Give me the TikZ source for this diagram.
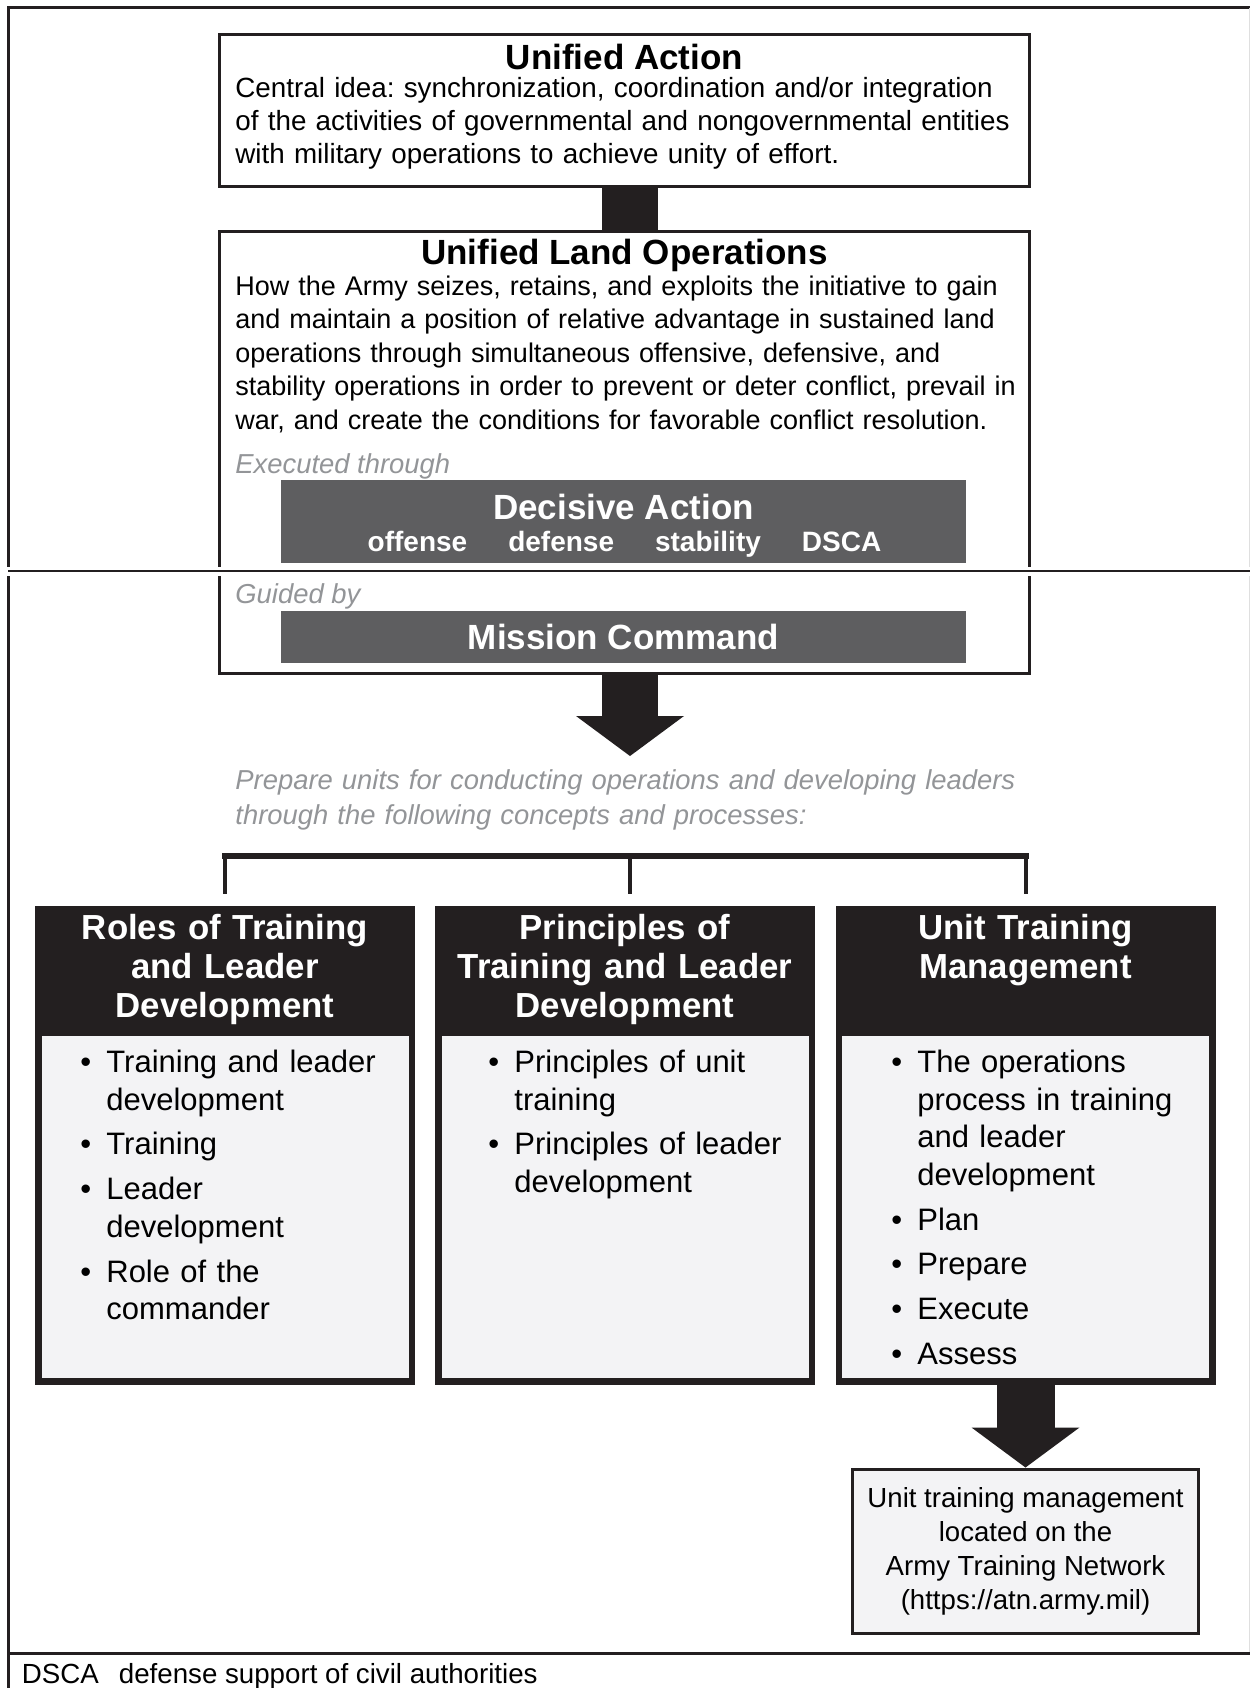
\documentclass[tikz,border=0pt]{standalone}
\usepackage{fontspec}
\setmainfont{Liberation Sans}
\usepackage{tikz}
\usetikzlibrary{positioning,arrows.meta}
\usepackage{xcolor}
\definecolor{inkblack}{HTML}{231F20}
\definecolor{dagray}{HTML}{5E5E60}
\definecolor{palegray}{HTML}{F3F3F5}
\definecolor{notegray}{HTML}{939598}
\newcommand{\bitem}[1]{\hangindent=13pt\hangafter=1\makebox[13pt][l]{\textbullet}#1\par}
\frenchspacing

\begin{document}
\begin{tikzpicture}[x=0.5pt, y=-0.5pt, font=\fontsize{13.9}{16.6}\selectfont]
\tikzstyle{border} = [line width=1.5pt, inkblack]
\tikzstyle{block} = [draw=inkblack, line width=1.5pt, fill=white, minimum width=405pt, inner sep=0pt]
\tikzstyle{headline} = [anchor=base, inner sep=0pt, font=\fontsize{17.5}{21}\selectfont\bfseries]
\tikzstyle{bodytext} = [anchor=base west, text width=420pt, align=left, inner sep=0pt]
\tikzstyle{notetext} = [anchor=base west, inner sep=0pt, text=notegray, font=\fontsize{13.7}{17.25}\selectfont\itshape]
\tikzstyle{band} = [fill=dagray, text=white, minimum width=342.5pt, inner sep=0pt]
\tikzstyle{colbox} = [fill=inkblack, minimum width=190pt, minimum height=239.5pt, inner sep=0pt]
\tikzstyle{colbody} = [fill=palegray, minimum width=183.5pt, minimum height=171pt, inner sep=0pt, anchor=south]
\tikzstyle{colhead} = [anchor=base, text width=180pt, align=center, text=white, inner sep=0pt, font=\fontsize{17.4}{19.4}\selectfont\bfseries]
\tikzstyle{bullets} = [anchor=base west, text width=160pt, align=left, inner sep=0pt, font=\fontsize{15.5}{18.8}\selectfont, execute at begin node={\setlength{\parskip}{3.6pt}}]
\tikzstyle{linkbox} = [draw=inkblack, line width=1.5pt, fill=palegray, minimum width=173pt, minimum height=82pt, align=center, font=\fontsize{13.8}{17}\selectfont]
\tikzstyle{bigarrow} = [line width=28pt, inkblack, -{Triangle[length=20pt, width=54pt, line width=0pt]}]
\tikzstyle{bracket} = [line width=3pt, inkblack, line cap=rect]
\tikzstyle{drop} = [line width=2pt, inkblack, shorten >=6pt]

\useasboundingbox (0,0) rectangle (1250,1688);
\draw[border] (8.5,1688) -- (8.5,7.5) -- (1250,7.5);
\draw[gray!25, line width=0.5pt] (1249,7.5) -- (1249,1653.5);
\draw[border] (8.5,1653.5) -- (1250,1653.5);

\coordinate (mid) at (630,756);
\node[block, minimum height=76pt] (ua) at (624.5,110.5) {};
\node[block, minimum height=221pt] (ulo) at (624.5,452.5) {};
\draw[line width=28pt, inkblack] (ua.south -| mid) -- (ulo.north -| mid);

\node[headline] (uatitle) at (624.5,69) {Unified Action};
\node[bodytext] (uatext) at (235,97.5) {Central idea: synchronization, coordination and/or integration\\of the activities of governmental and nongovernmental entities\\with military operations to achieve unity of effort.};

\node[headline] (ulotitle) at (624.5,264) {Unified Land Operations};
\node[bodytext, font=\fontsize{13.5}{16.75}\selectfont] (ulotext) at (235,295) {How the Army seizes, retains, and exploits the initiative to gain\\and maintain a position of relative advantage in sustained land\\operations through simultaneous offensive, defensive, and\\stability operations in order to prevent or deter conflict, prevail in\\war, and create the conditions for favorable conflict resolution.};

\node[notetext] (exec) at (235,473) {Executed through};
\node[band, minimum height=41.5pt] (da) at (623.5,521.5) {};
\node[headline, text=white] (datitle) at (623.5,519) {Decisive Action};
\node[anchor=base, inner sep=0pt, text=white, font=\fontsize{14}{16}\selectfont\bfseries] (dakinds) at (624.5,551) {offense\hspace{20.5pt}defense\hspace{20.5pt}stability\hspace{20.5pt}DSCA};

\fill[white] (0,566.5) rectangle (1250,575.5);
\draw[inkblack, line width=1.25pt] (8,571) -- (1250,571);

\node[notetext] (guide) at (235,603) {Guided by};
\node[band, minimum height=26pt, font=\fontsize{17.5}{21}\selectfont\bfseries] (mc) at (623.5,637) {Mission Command};

\draw[bigarrow] (ulo.south -| mid) -- (mid);

\node[notetext, text width=400pt, align=left] (prep) at (235,789.5) {Prepare units for conducting operations and developing leaders\\through the following concepts and processes:};

\node[colbox] (col1) at (225,1145.5) {};
\node[colbox] (col2) at (625,1145.5) {};
\node[colbox] (col3) at (1025.5,1145.5) {};
\node[colbody] (body1) at ([yshift=3.5pt]col1.south) {};
\node[colbody] (body2) at ([yshift=3.5pt]col2.south) {};
\node[colbody] (body3) at ([yshift=3.5pt]col3.south) {};

\coordinate (brk) at (630,856);
\draw[bracket] (col1.north |- brk) -- (col3.north |- brk);
\draw[drop] (col1.north |- brk) -- (col1.north);
\draw[drop] (brk) -- (brk |- col2.north);
\draw[drop] (col3.north |- brk) -- (col3.north);

\node[colhead] (head1) at (225,939.5) {Roles of Training\\and Leader\\Development};
\node[colhead] (head2) at (625,939.5) {Principles of\\Training and Leader\\Development};
\node[colhead] (head3) at (1025.5,939.5) {Unit Training\\Management};

\node[bullets] (list1) at (80,1072.5) {\bitem{Training and leader\newline development}\bitem{Training}\bitem{Leader\newline development}\bitem{Role of the\newline commander}};
\node[bullets] (list2) at (488,1072.5) {\bitem{Principles of unit\newline training}\bitem{Principles of leader\newline development}};
\node[bullets] (list3) at (891,1072.5) {\bitem{The operations\newline process in training\newline and leader\newline development}\bitem{Plan}\bitem{Prepare}\bitem{Execute}\bitem{Assess}};

\node[linkbox] (atn) at (1025.5,1551) {Unit training management\\located on the\\Army Training Network\\(https://atn.army.mil)};
\draw[bigarrow, line width=29pt] (col3.south) -- (atn.north);

\node[anchor=base west, inner sep=0pt, font=\fontsize{13.85}{16}\selectfont] (dsca) at (21.5,1683) {DSCA\hspace{10pt}defense support of civil authorities};
\end{tikzpicture}
\end{document}
